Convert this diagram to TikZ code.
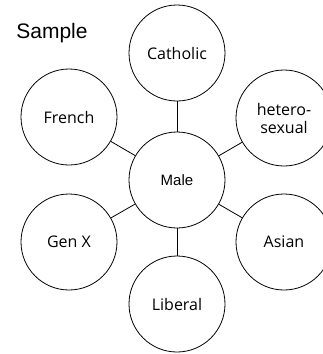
\documentclass[tikz,border=0pt]{standalone}
\usepackage{fontspec}
\setmainfont{Open Sans}
\newfontfamily\arialfont{Liberation Sans}
\usepackage{tikz}
\usetikzlibrary{positioning}

\begin{document}
\begin{tikzpicture}[on grid,auto,
    topic/.style={circle,draw,line width=0.8pt,minimum size=96pt,inner sep=0pt,
                  align=center,font=\fontsize{16}{18}\selectfont}]
   \useasboundingbox (0,0) rectangle (323pt,-354pt);
   \node (title) at (52pt,-33pt) {\arialfont\fontsize{21}{24}\selectfont Sample};
   \node[topic,font=\arialfont\fontsize{15}{18}\selectfont] (male) at (177pt,-180pt) {Male};
   \node[topic](catholic) [above=127pt of male] {Catholic};
   \node[topic](french) [above left=63pt and 108pt of male] {French};
   \node[topic](hetero) [above right=62pt and 107pt of male] {hetero-\\sexual};
   \node[topic](genx) [below left=62pt and 108pt of male] {Gen X};
   \node[topic](asian) [below right=62pt and 107pt of male] {Asian};
   \node[topic](liberal) [below=124pt of male] {Liberal};
    \path[line width=0.8pt]
    (male) edge (catholic)
           edge (french)
           edge (hetero)
           edge (genx)
           edge (asian)
           edge (liberal);
\end{tikzpicture}
\end{document}
